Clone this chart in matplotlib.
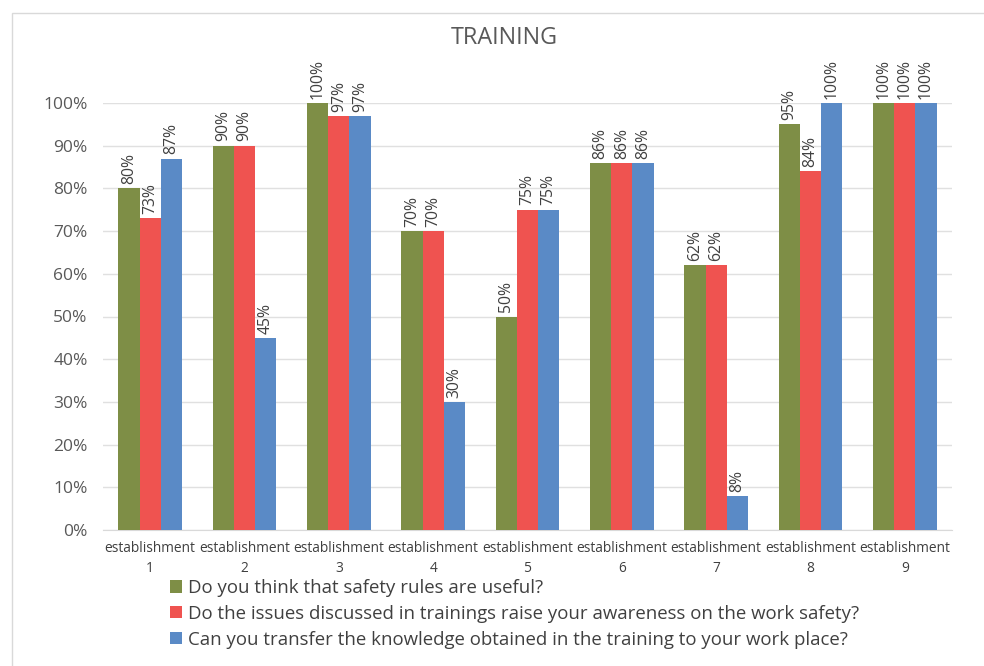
import matplotlib
matplotlib.use("Agg")
import matplotlib.pyplot as plt
import numpy as np
from matplotlib.patches import Rectangle

categories = [f"establishment\n{i}" for i in range(1, 10)]
series_names = [
    "Do you think that safety rules are useful?",
    "Do the issues discussed in trainings raise your awareness on the work safety?",
    "Can you transfer the knowledge obtained in the training to your work place?",
]
useful = [80, 90, 100, 70, 50, 86, 62, 95, 100]
awareness = [73, 90, 97, 70, 75, 86, 62, 84, 100]
transfer = [87, 45, 97, 30, 75, 86, 8, 100, 100]
colors = ["#7E8E46", "#EF5350", "#5A8AC6"]

plt.rcParams['font.family'] = ['Open Sans', 'DejaVu Sans']

fig = plt.figure(figsize=(9.84, 6.66), dpi=100)
fig.patches.append(Rectangle((12/984, -0.1), 1.1, 0.1 + 1 - 13/666,
                             transform=fig.transFigure, fill=False,
                             edgecolor="#D9D9D9", linewidth=1))
ax = fig.add_axes([103/984, 1 - 530/666, (952 - 103)/984, (530 - 103)/666])

x = np.arange(len(categories))
w = 0.225
handles = []
for k, (vals, c, name) in enumerate(zip([useful, awareness, transfer], colors, series_names)):
    pos = x + (k - 1) * w
    b = ax.bar(pos, vals, width=w, color=c, label=name, zorder=3)
    handles.append(b)
    for p, v in zip(pos, vals):
        ax.text(p, v + 1, f"{v}%", rotation=90, ha="center", va="bottom",
                fontsize=11.3, color="#404040", clip_on=False)

ax.set_xlim(-0.5, len(categories) - 0.5)
ax.set_ylim(0, 100)
ax.set_yticks(range(0, 101, 10))
ax.set_yticklabels([f"{v}%" for v in range(0, 101, 10)], fontsize=12.5, color="#595959")
ax.set_xticks(x)
ax.set_xticklabels(categories, fontsize=9.9, color="#404040", linespacing=1.45)
ax.tick_params(axis="both", length=0)
ax.tick_params(axis="y", pad=11)
ax.tick_params(axis="x", pad=8)
ax.grid(axis="y", color="#E0E0E0", linewidth=1, zorder=0)
for s in ["left", "right", "top"]:
    ax.spines[s].set_visible(False)
ax.spines["bottom"].set_color("#D9D9D9")

fig.text(504/984, 1 - 38/666, "TRAINING", ha="center", va="center",
         fontsize=16.8, color="#595959")

leg = fig.legend(handles=handles, labels=series_names, loc="upper left",
                 bbox_to_anchor=(170/984, 1 - 579/666), frameon=False,
                 fontsize=13.4, labelcolor="#404040", handlelength=0.65,
                 handleheight=0.65, handletextpad=0.3, labelspacing=0.42,
                 borderaxespad=0, borderpad=0)

fig.savefig("out.png", dpi=100)
